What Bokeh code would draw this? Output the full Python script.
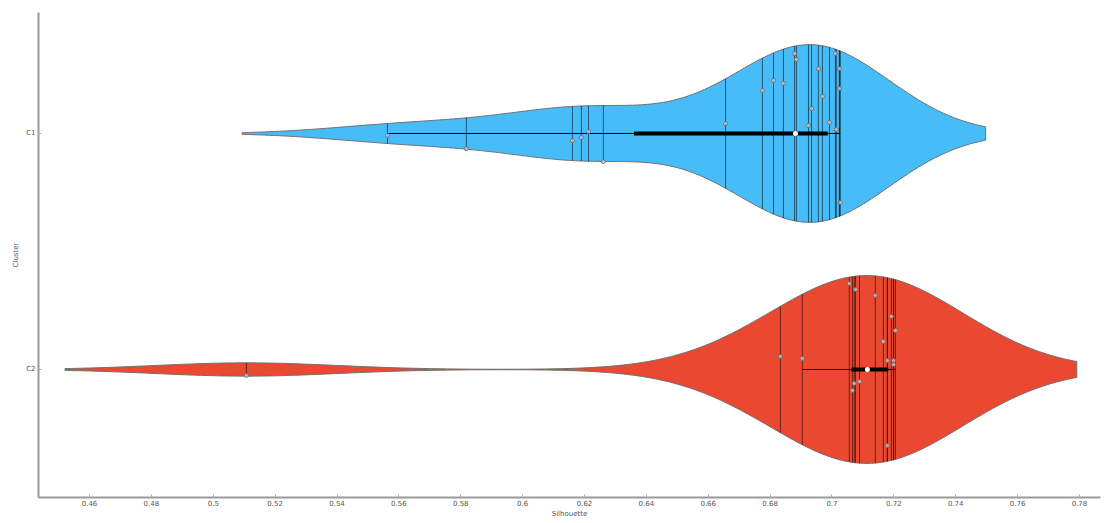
import numpy as np
from bokeh.plotting import figure
from bokeh.models import Range1d, FixedTicker, CustomJSTickFormatter
from bokeh.embed import file_html
from bokeh.resources import INLINE

# ---- data ----
clusters = ["C1", "C2"]
cluster_pos = [1, 0]
colors = ["#46BDF9", "#EB4832"]

c1_values = [0.5563, 0.5818, 0.6161, 0.6190, 0.6213, 0.6261, 0.6656, 0.6775,
             0.6811, 0.6843, 0.6879, 0.6885, 0.6924, 0.6934, 0.6956, 0.6969,
             0.6992, 0.7011, 0.7014, 0.7024, 0.7024, 0.7027]
c1_jitter = [-0.008, -0.064, -0.030, -0.017, 0.008, -0.119, 0.042, 0.182,
             0.225, 0.212, 0.339, 0.314, 0.034, 0.106, 0.275, 0.157,
             0.047, 0.339, 0.017, 0.275, 0.191, -0.292]

c2_values = [0.5107, 0.6833, 0.6904, 0.7056, 0.7066, 0.7072, 0.7076, 0.7089,
             0.7140, 0.7166, 0.7179, 0.7179, 0.7192, 0.7199, 0.7199, 0.7205]
c2_jitter = [-0.025, 0.055, 0.047, 0.364, -0.089, -0.059, 0.339, -0.051,
             0.314, 0.119, 0.038, -0.322, 0.225, 0.038, 0.021, 0.165]

x_ticks = [0.46, 0.48, 0.50, 0.52, 0.54, 0.56, 0.58, 0.60, 0.62, 0.64,
           0.66, 0.68, 0.70, 0.72, 0.74, 0.76, 0.78]

groups = [c1_values, c2_values]
jitters = [c1_jitter, c2_jitter]


def kde(vals, cut=2.0, n=300):
    v = np.asarray(vals, dtype=float)
    bw = v.std(ddof=1) * len(v) ** (-0.2)
    grid = np.linspace(v.min() - cut * bw, v.max() + cut * bw, n)
    dens = np.exp(-0.5 * ((grid[:, None] - v[None, :]) / bw) ** 2).sum(1)
    dens /= len(v) * bw * np.sqrt(2 * np.pi)
    return grid, dens


FONT = "DejaVu Sans"

p = figure(width=1102, height=521, output_backend="svg", toolbar_location=None,
           x_range=Range1d(0.4435, 0.7868), y_range=Range1d(-0.5424, 1.5127),
           min_border_left=38, min_border_right=2, min_border_top=12,
           min_border_bottom=24)
p.outline_line_color = None
p.xgrid.visible = False
p.ygrid.visible = False

kdes = [kde(g) for g in groups]
max_half = 0.398
scale = max_half / max(d.max() for _, d in kdes)

for vals, jit, pos, col, (grid, dens) in zip(groups, jitters, cluster_pos, colors, kdes):
    half = dens * scale
    xs = np.concatenate([grid, grid[::-1]])
    ys = np.concatenate([pos + half, (pos - half)[::-1]])
    p.patch(xs, ys, fill_color=col, line_color="#6f6f6f", line_width=1)

    v = np.asarray(vals)
    w = np.interp(v, grid, half)
    p.segment(x0=v, y0=pos - w, x1=v, y1=pos + w, line_color="black",
              line_alpha=0.55, line_width=1)

    q1, med, q3 = np.percentile(v, [25, 50, 75])
    iqr = q3 - q1
    lo = v[v >= q1 - 1.5 * iqr].min()
    hi = v[v <= q3 + 1.5 * iqr].max()
    p.segment(x0=[lo], y0=[pos], x1=[hi], y1=[pos], line_color="black", line_width=1)
    p.segment(x0=[q1], y0=[pos], x1=[q3], y1=[pos], line_color="black", line_width=4)

    p.scatter(x=v, y=pos + np.asarray(jit), size=4, line_color="#707070",
              fill_color="#e0e0e0", fill_alpha=0.7, line_width=1)
    p.scatter(x=[med], y=[pos], size=5, fill_color="white", line_color=None)

# axes
p.xaxis.ticker = FixedTicker(ticks=x_ticks)
p.xaxis.formatter = CustomJSTickFormatter(code="return String(parseFloat(tick.toFixed(2)));")
p.yaxis.ticker = FixedTicker(ticks=cluster_pos)
p.yaxis.major_label_overrides = {pos: name for pos, name in zip(cluster_pos, clusters)}
p.xaxis.axis_label = "Silhouette"
p.yaxis.axis_label = "Cluster"

for ax in (p.xaxis, p.yaxis):
    ax.axis_line_color = "#9a9a9a"
    ax.axis_line_width = 2
    ax.major_tick_in = 3
    ax.major_tick_out = 0
    ax.major_tick_line_color = "#b0b0b0"
    ax.minor_tick_line_color = None
    ax.major_label_text_font = FONT
    ax.major_label_text_font_size = "7px"
    ax.major_label_text_color = "#555555"
    ax.axis_label_text_font = FONT
    ax.axis_label_text_font_size = "7px"
    ax.axis_label_text_font_style = "normal"
    ax.axis_label_text_color = "#555555"

p.xaxis.major_label_standoff = 2
p.xaxis.axis_label_standoff = 1
p.yaxis.major_label_standoff = 3
p.yaxis.axis_label_standoff = 3

open("out.html", "w").write(file_html(p, INLINE))
